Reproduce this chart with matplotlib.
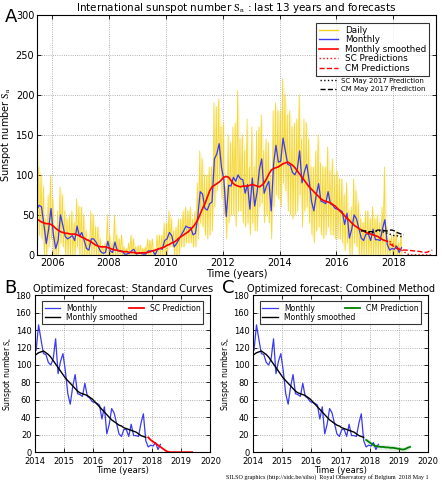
import numpy as np
import matplotlib
matplotlib.use('Agg')
import matplotlib.pyplot as plt
from matplotlib.lines import Line2D

plt.rcParams['mathtext.fontset'] = 'stix'
plt.rcParams['font.family'] = 'DejaVu Sans'

# monthly mean total sunspot number, 2005-06 .. 2018-04
start_year, start_month = 2005, 6
monthly = [57, 62, 60, 38, 14, 32, 58,
           25, 8, 18, 50, 37, 23, 20, 22, 24, 18, 36, 23,
           28, 18, 8, 6, 20, 20, 16, 10, 4, 2, 3, 17,
           5, 3, 16, 5, 5, 5, 1, 1, 2, 5, 7, 1,
           2, 2, 1, 1, 5, 5, 5, 0, 7, 8, 7, 18,
           20, 28, 24, 10, 14, 19, 25, 30, 36, 34, 34, 25,
           27, 48, 79, 76, 58, 56, 64, 66, 120, 126, 139, 109,
           94, 48, 87, 86, 97, 92, 100, 95, 94, 77, 88, 57,
           96, 61, 78, 107, 120, 77, 86, 92, 55, 114, 137, 116,
           117, 146, 129, 113, 112, 103, 100, 107, 130, 90, 104, 113,
           93, 67, 55, 75, 89, 67, 66, 64, 79, 64, 62, 58,
           57, 56, 54, 38, 52, 21, 32, 50, 45, 33, 21, 18,
           26, 26, 18, 32, 19, 19, 18, 33, 44, 13, 6, 8,
           7, 11, 3, 9]

# 13-month smoothed, 2005-06 .. 2017-10
smoothed = [45, 43, 41, 40, 39, 39, 38,
            36, 33, 31, 29, 28, 27, 27, 26, 26, 26, 25, 24,
            22, 21, 19, 18, 16, 14, 12, 11, 10, 10, 10, 9,
            8, 7, 6, 6, 5, 4, 4, 4, 3, 3, 3, 2.2,
            2.3, 2.5, 2.6, 2.7, 3.2, 4, 5, 6, 7, 8, 9, 10,
            12, 13, 15, 16, 18, 21, 23, 25, 27, 29, 32, 35,
            39, 44, 51, 58, 64, 72, 80, 85, 87, 89, 91, 94,
            97, 98, 97, 93, 89, 87, 86, 85, 86, 86, 86, 87,
            88, 87, 86, 85, 87, 90, 95, 101, 106, 108, 109, 110,
            112, 114, 115, 116, 114, 112, 109, 105, 101, 97, 93, 89,
            85, 82, 79, 76, 73, 70, 68, 67, 66, 65, 63, 61,
            58, 55, 52, 49, 46, 43, 40, 37, 35, 33, 31, 30,
            28, 27, 26, 25, 24, 23, 21, 19, 18, 17]

# daily values: highest and lowest day of each month
daily_hi = [168, 110, 100, 85, 45, 75, 100,
            70, 30, 55, 85, 75, 55, 45, 50, 55, 40, 70, 60,
            60, 50, 30, 20, 55, 50, 35, 35, 20, 12, 15, 50,
            25, 15, 50, 25, 20, 25, 10, 8, 15, 25, 20, 10,
            12, 12, 8, 10, 20, 18, 20, 5, 25, 25, 25, 40,
            40, 55, 45, 30, 35, 45, 45, 55, 60, 55, 60, 45,
            55, 90, 130, 120, 100, 100, 110, 110, 190, 185, 195, 160,
            165, 85, 150, 140, 160, 165, 205, 145, 150, 130, 170, 110,
            160, 110, 155, 160, 175, 130, 145, 140, 100, 180, 190, 180,
            180, 220, 200, 175, 180, 160, 165, 170, 200, 145, 170, 165,
            145, 110, 110, 130, 150, 115, 110, 110, 135, 105, 120, 100,
            105, 95, 95, 75, 90, 55, 60, 95, 80, 65, 45, 40,
            55, 55, 45, 60, 45, 50, 40, 60, 110, 35, 20, 25,
            25, 30, 15, 25]
daily_lo = [15, 25, 20, 0, 0, 10, 20,
            0, 0, 0, 15, 10, 0, 0, 0, 0, 0, 10, 0,
            0, 0, 0, 0, 0, 0, 0, 0, 0, 0, 0, 0,
            0, 0, 0, 0, 0, 0, 0, 0, 0, 0, 0, 0,
            0, 0, 0, 0, 0, 0, 0, 0, 0, 0, 0, 0,
            0, 10, 10, 0, 0, 0, 10, 10, 15, 15, 15, 10,
            10, 20, 40, 35, 25, 20, 25, 30, 60, 80, 95, 70,
            50, 20, 40, 50, 50, 35, 55, 55, 40, 35, 40, 25,
            40, 30, 30, 60, 65, 40, 50, 40, 20, 60, 75, 70,
            60, 90, 80, 55, 50, 45, 50, 55, 75, 35, 55, 60,
            40, 25, 15, 30, 35, 25, 20, 25, 35, 25, 25, 20,
            20, 20, 15, 5, 15, 0, 0, 15, 10, 0, 0, 0,
            0, 0, 0, 0, 0, 0, 0, 0, 0, 0, 0, 0,
            0, 0, 0, 0]

# forecasts from 2017-11 .. 2019-05
sc_pred = [17, 14, 12, 10, 8, 6, 4, 2, 0.5, 0, 0, 0, 0, 0, 0, 0, 0, 0, 0]
cm_pred = [14, 12, 10, 8, 7, 6.5, 6, 6, 5.5, 5.5, 5, 5, 4.5, 4, 3.5, 3, 3.5, 5, 6]
cm_band = [3, 3, 3, 3, 3, 3, 3, 3, 3, 3, 3, 3, 3, 3, 3, 3, 3, 3, 3]
# May 2017 forecasts, 2016-11 .. 2018-05
sc_may17 = [30, 29, 29, 28, 28, 28, 29, 30, 30, 29, 28, 27, 26, 25, 24, 24, 23, 23, 22]
cm_may17 = [31, 30, 30, 29, 29, 29, 30, 31, 31, 31, 30, 30, 31, 31, 30, 28, 27, 26, 25]


def month_times(y, m, n):
    return y + (m - 1 + 0.5 + np.arange(n)) / 12.0


t_mon = month_times(start_year, start_month, len(monthly))
t_sm = t_mon[:len(smoothed)]
t_pred = month_times(2017, 11, len(sc_pred))
t_may = month_times(2016, 11, len(sc_may17))

# zig-zag daily path from monthly extremes
t_day = np.empty(2 * len(daily_hi))
y_day = np.empty(2 * len(daily_hi))
t_day[0::2] = t_mon - 0.2 / 12
t_day[1::2] = t_mon + 0.2 / 12
y_day[0::2] = daily_hi
y_day[1::2] = daily_lo

BLUE = '#3a3af0'
GOLD = '#f4d21c'


def style_axes(ax, fs):
    ax.grid(True, linestyle=':', color='#999999', linewidth=0.6)
    ax.tick_params(direction='in', top=True, right=True, labelsize=fs,
                   length=3, width=0.6, pad=2)
    for s in ax.spines.values():
        s.set_linewidth(0.8)


fig = plt.figure(figsize=(4.42, 4.8), dpi=100)

# ---- panel A
ax = fig.add_axes([0.084, 0.469, 0.902, 0.5])
ax.fill_between(t_mon, daily_lo, daily_hi, color=GOLD, alpha=0.22, linewidth=0)
ax.plot(t_day, y_day, color=GOLD, lw=0.6, alpha=0.85)
ax.plot(t_mon, monthly, color=BLUE, lw=0.9)
ax.plot(t_sm, smoothed, color='red', lw=1.2)
ax.plot(t_pred, sc_pred, color='red', lw=1.0, linestyle=':')
ax.plot(t_pred, cm_pred, color='red', lw=1.0, linestyle='--')
ax.plot(t_may, sc_may17, color='black', lw=1.0, linestyle=':')
ax.plot(t_may, cm_may17, color='black', lw=1.0, linestyle='--')
ax.set_xlim(2005.47, 2019.5)
ax.set_ylim(0, 300)
ax.set_xticks([2006, 2008, 2010, 2012, 2014, 2016, 2018])
ax.set_yticks([0, 50, 100, 150, 200, 250, 300])
style_axes(ax, 7)
ax.set_title(r'International sunspot number $\mathrm{S_n}$ : last 13 years and forecasts',
             fontsize=7.5, pad=3)
ax.set_ylabel(r'Sunspot number $\mathrm{S_n}$', fontsize=7, labelpad=2)
ax.set_xlabel('Time (years)', fontsize=7, labelpad=1)

h1 = [Line2D([0], [0], color=GOLD, lw=1),
      Line2D([0], [0], color=BLUE, lw=1),
      Line2D([0], [0], color='red', lw=1.2),
      Line2D([0], [0], color='red', lw=1, linestyle=':'),
      Line2D([0], [0], color='red', lw=1, linestyle='--')]
leg1 = ax.legend(h1, ['Daily', 'Monthly', 'Monthly smoothed', 'SC Predictions', 'CM Predictions'],
                 loc='upper right', fontsize=6.3, frameon=True, fancybox=False,
                 edgecolor='black', handlelength=2.2, labelspacing=0.05,
                 borderpad=0.35, bbox_to_anchor=(0.995, 0.985))
leg1.get_frame().set_linewidth(0.8)
ax.add_artist(leg1)
h2 = [Line2D([0], [0], color='black', lw=1, linestyle=':'),
      Line2D([0], [0], color='black', lw=1, linestyle='--')]
ax.legend(h2, ['SC May 2017 Prediction', 'CM May 2017 Prediction'],
          loc='upper right', fontsize=5, frameon=False, handlelength=2.2,
          labelspacing=0.4, bbox_to_anchor=(0.99, 0.765))
fig.text(0.012, 0.955, 'A', fontsize=13)

# ---- panels B and C
t_b = t_mon[t_mon >= 2014]
m_b = np.array(monthly)[t_mon >= 2014]
t_sb = t_sm[t_sm >= 2014]
s_b = np.array(smoothed)[t_sm >= 2014]

panels = [(0.079, 'B', 'Optimized forecast: Standard Curves', 'SC Prediction', 'red', sc_pred),
          (0.572, 'C', 'Optimized forecast: Combined Method', 'CM Prediction', 'green', cm_pred)]
for left, letter, title, lab, col, pred in panels:
    bx = fig.add_axes([left, 0.058, 0.397, 0.327])
    if letter == 'C':
        bx.fill_between(t_pred, np.array(pred) - np.array(cm_band),
                        np.array(pred) + np.array(cm_band),
                        color='green', alpha=0.12, linewidth=0)
    l1, = bx.plot(t_b, m_b, color=BLUE, lw=0.9)
    l2, = bx.plot(t_sb, s_b, color='black', lw=1.0)
    l3, = bx.plot(t_pred, pred, color=col, lw=1.3)
    bx.set_xlim(2014, 2020)
    bx.set_ylim(0, 180)
    bx.set_xticks(range(2014, 2021))
    bx.set_yticks(range(0, 181, 20))
    style_axes(bx, 6)
    bx.tick_params(axis='x', pad=3.5)
    bx.tick_params(axis='y', pad=2.5)
    bx.set_title(title, fontsize=7, pad=2)
    bx.set_ylabel(r'Sunspot number $\mathrm{S_n}$', fontsize=5.5, labelpad=1)
    bx.set_xlabel('Time (years)', fontsize=6, labelpad=0)
    lg = bx.legend([l1, l2, l3], ['Monthly', 'Monthly smoothed', lab],
                   ncol=2, loc='upper left', mode='expand', fontsize=5.5,
                   bbox_to_anchor=(0.02, 0.985, 0.96, 0.0), frameon=True,
                   fancybox=False, edgecolor='black', handlelength=2.0,
                   labelspacing=0.05, borderpad=0.3, columnspacing=0.5)
    lg.get_frame().set_linewidth(0.8)
    fig.text(left - 0.07, 0.39, letter, fontsize=13)

fig.text(0.97, 0.001, 'SILSO graphics (http://sidc.be/silso)  Royal Observatory of Belgium  2018 May 1',
         ha='right', va='bottom', fontsize=4.4, family='Liberation Serif')

fig.savefig('out.png', dpi=100)
